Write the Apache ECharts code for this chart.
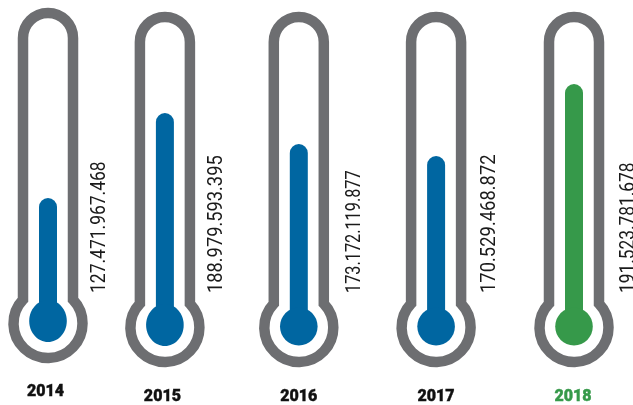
<!DOCTYPE html>
<html>
<head>
<meta charset="utf-8">
<style>html,body{margin:0;padding:0;background:#fff}#c{width:633px;height:405px}</style>
<script src="https://cdn.jsdelivr.net/npm/echarts@6/dist/echarts.min.js"></script>
</head>
<body>
<div id="c"></div>
<script>
const years = ['2014', '2015', '2016', '2017', '2018'];
const amounts = [127471967468, 188979593395, 173172119877, 170529468872, 191523781678];
// Fill height of each thermometer as drawn (not proportional to the amount).
const fillLevels = [207, 292, 261, 249, 321];

const GRAY = '#6d6e71', BLUE = '#0066a1', GREEN = '#36994a', BLACK = '#111111';
const highlightYear = '2018';
// Hand-placed look of the original: small per-thermometer offsets.
const look = {
  '2014': {dx: -15.3, cy: 323.5, bulbY: 321,   bulbRy: 21, yearDx: -2.5, yearY: 392,   labelDx: 52,   labelY: 293, labelScale: 0.832},
  '2015': {dx: -25,   cy: 327.5, bulbY: 325,   bulbRy: 21, yearDx: -2.5, yearY: 396.5, labelDx: 52,   labelY: 293, labelScale: 0.87},
  '2016': {dx: -17.7, cy: 327.5, bulbY: 326.5, bulbRy: 19, yearDx: 0,    yearY: 396.5, labelDx: 55.5, labelY: 293, labelScale: 0.775},
  '2017': {dx: -7,    cy: 327.5, bulbY: 326.5, bulbRy: 19, yearDx: 0,    yearY: 396.5, labelDx: 54,   labelY: 293, labelScale: 0.876},
  '2018': {dx: 4.3,   cy: 327.5, bulbY: 326.5, bulbRy: 19, yearDx: -1,   yearY: 396.5, labelDx: 55,   labelY: 293, labelScale: 0.825}
};
const shellPath = 'M -25 -23.8 A 34.5 34.5 0 1 0 25 -23.8 L 25 -285.5 A 25 25 0 0 0 -25 -285.5 Z';
const fmt = n => String(n).replace(/\B(?=(\d{3})+$)/g, '.');

function renderItem(params, api) {
  const i = api.value(0);
  const year = years[i];
  const L = look[year];
  const cx = api.coord([i, 0])[0] + L.dx;
  const top = api.coord([i, api.value(1)])[1];
  const color = year === highlightYear ? GREEN : BLUE;
  const yearColor = year === highlightYear ? GREEN : BLACK;
  return {
    type: 'group',
    children: [
      {type: 'path', x: cx, y: L.cy, shape: {pathData: shellPath},
       style: {fill: null, stroke: GRAY, lineWidth: 10.5}},
      {type: 'rect', shape: {x: cx - 9, y: top, width: 18, height: L.bulbY - top, r: [9, 9, 0, 0]},
       style: {fill: color}},
      {type: 'ellipse', shape: {cx: cx, cy: L.bulbY, rx: 18.8, ry: L.bulbRy}, style: {fill: color}},
      {type: 'text', x: cx + L.labelDx, y: L.labelY, rotation: Math.PI / 2, scaleX: L.labelScale,
       style: {text: fmt(amounts[i]), fill: '#1a1a1a', font: '21px Roboto, sans-serif',
               textAlign: 'left', textVerticalAlign: 'middle'}},
      {type: 'text', x: cx + L.yearDx, y: L.yearY,
       style: {text: year, fill: yearColor, stroke: yearColor, lineWidth: 0.4, font: '900 16px Roboto, sans-serif',
               textAlign: 'center', textVerticalAlign: 'middle'}}
    ]
  };
}

const chart = echarts.init(document.getElementById('c'), null, {renderer: 'canvas'});
chart.setOption({
  animation: false,
  backgroundColor: '#ffffff',
  grid: {left: 0, right: 0, top: 0, bottom: 0},
  xAxis: {type: 'category', data: years, show: false},
  yAxis: {type: 'value', min: 0, max: 405, show: false},
  series: [{
    type: 'custom',
    clip: false,
    encode: {x: 0, y: 1},
    renderItem: renderItem,
    data: years.map((y, i) => [i, fillLevels[i]])
  }]
});
</script>
</body>
</html>
